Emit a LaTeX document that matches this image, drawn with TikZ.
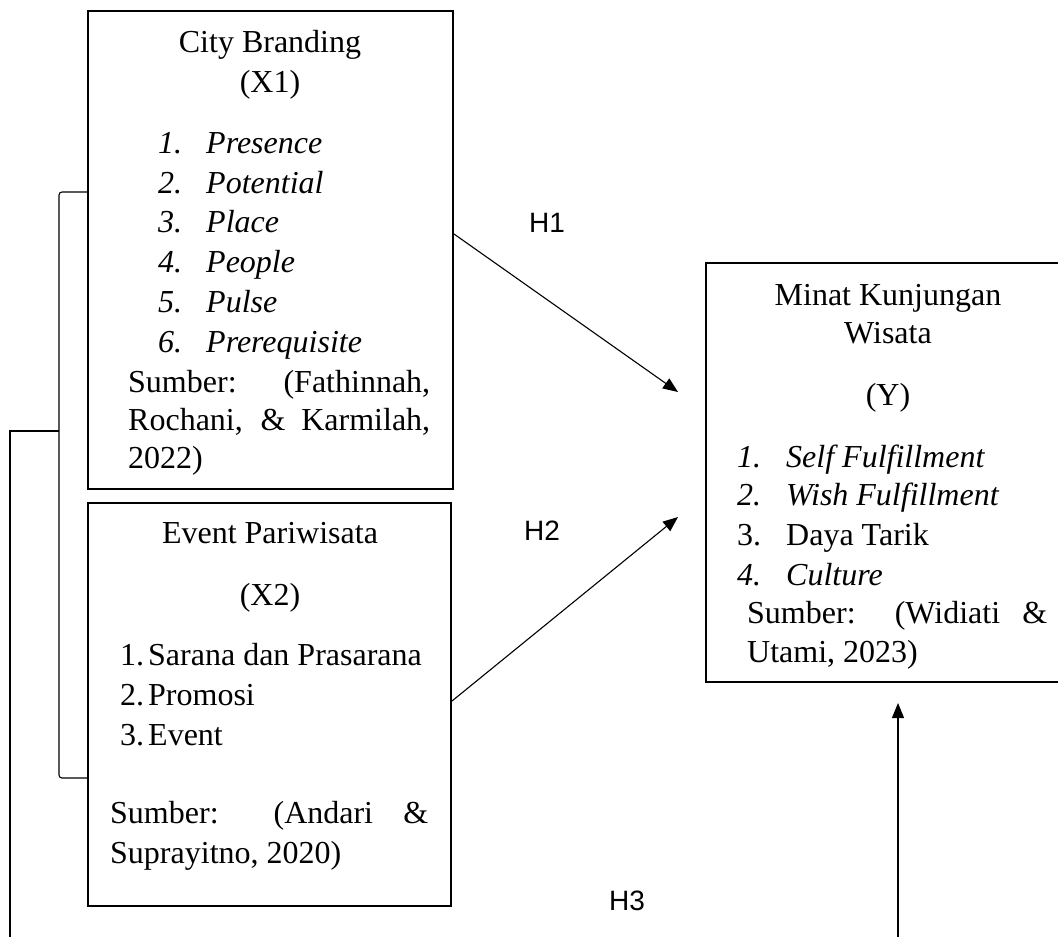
\documentclass[tikz,border=0pt]{standalone}
\usepackage{fontspec}
\setmainfont{Liberation Serif}
\newfontfamily\hsans{Liberation Sans}
\usetikzlibrary{arrows.meta}
\begin{document}
\begin{tikzpicture}[x=1pt,y=-1pt,
  box/.style={draw,line width=2pt,rectangle,inner sep=0pt},
  txt/.style={inner sep=0pt,font=\fontsize{32}{40}\selectfont},
  hlab/.style={inner sep=0pt,font=\hsans\fontsize{28}{32}\selectfont},
  conn/.style={line width=1.1pt},
  arr/.style={conn,-{Triangle[length=15pt,width=12pt]}}
]
\useasboundingbox (0,0) rectangle (1058,937);

% boxes
\node[box,minimum width=365pt,minimum height=478pt] (x1) at (270.5,250) {};
\node[box,minimum width=363pt,minimum height=403pt] (x2) at (269.5,704.5) {};
\node[box,minimum width=364pt,minimum height=419pt] (y) at (888,472.5) {};

% X1 text
\node[txt,anchor=base] (t1a) at (270,52) {City Branding};
\node[txt,anchor=base] (t1b) at (270,92) {(X1)};
\node[txt,anchor=base west] (i11) at (158,153) {\itshape\makebox[48pt][l]{1.}Presence};
\node[txt,anchor=base west] (i12) at (158,193) {\itshape\makebox[48pt][l]{2.}Potential};
\node[txt,anchor=base west] (i13) at (158,232) {\itshape\makebox[48pt][l]{3.}Place};
\node[txt,anchor=base west] (i14) at (158,272) {\itshape\makebox[48pt][l]{4.}People};
\node[txt,anchor=base west] (i15) at (158,312) {\itshape\makebox[48pt][l]{5.}Pulse};
\node[txt,anchor=base west] (i16) at (158,352) {\itshape\makebox[48pt][l]{6.}Prerequisite};
\node[txt,anchor=base west] (s1a) at (128,392) {\makebox[302pt][s]{Sumber: (Fathinnah,}};
\node[txt,anchor=base west] (s1b) at (128,430) {\makebox[302pt][s]{Rochani, \& Karmilah,}};
\node[txt,anchor=base west] (s1c) at (128,468) {2022)};

% X2 text
\node[txt,anchor=base] (t2a) at (270,543) {Event Pariwisata};
\node[txt,anchor=base] (t2b) at (270,605) {(X2)};
\node[txt,anchor=base west] (i21) at (120,665) {\makebox[28pt][l]{1.}Sarana dan Prasarana};
\node[txt,anchor=base west] (i22) at (120,705) {\makebox[28pt][l]{2.}Promosi};
\node[txt,anchor=base west] (i23) at (120,745) {\makebox[28pt][l]{3.}Event};
\node[txt,anchor=base west] (s2a) at (110,823) {\makebox[318pt][s]{Sumber: (Andari \&}};
\node[txt,anchor=base west] (s2b) at (110,863) {Suprayitno, 2020)};

% Y text
\node[txt,anchor=base] (tya) at (888,305) {Minat Kunjungan};
\node[txt,anchor=base] (tyb) at (888,343) {Wisata};
\node[txt,anchor=base] (tyc) at (888,405) {(Y)};
\node[txt,anchor=base west] (iy1) at (737,467) {\itshape\makebox[49pt][l]{1.}Self Fulfillment};
\node[txt,anchor=base west] (iy2) at (737,505) {\itshape\makebox[49pt][l]{2.}Wish Fulfillment};
\node[txt,anchor=base west] (iy3) at (737,545) {\makebox[49pt][l]{3.}Daya Tarik};
\node[txt,anchor=base west] (iy4) at (737,585) {\itshape\makebox[49pt][l]{4.}Culture};
\node[txt,anchor=base west] (sya) at (747,623) {\makebox[300pt][s]{Sumber: (Widiati \&}};
\node[txt,anchor=base west] (syb) at (747,662) {Utami, 2023)};

% hypothesis labels
\node[hlab,anchor=base west] (h1) at (529,232) {H1};
\node[hlab,anchor=base west] (h2) at (524,540) {H2};
\node[hlab,anchor=base west] (h3) at (609,910) {H3};

% connectors
\coordinate (h1s) at ([yshift=16pt]x1.east);
\coordinate (h1t) at (678,392);
\draw[arr] (h1s) -- (h1t);
\coordinate (h2s) at ([yshift=3.5pt]x2.east);
\coordinate (h2t) at (678,517);
\draw[arr] (h2s) -- (h2t);

% bracket joining X1 and X2
\coordinate (bt) at ([yshift=58pt]x1.west);
\coordinate (bb) at ([yshift=-73.5pt]x2.west);
\draw[conn,rounded corners=3pt] (bt) -- (59,192) -- (59,778) -- (bb);

% H3 path
\coordinate (oj) at (59,431);
\coordinate (oe) at (10,937);
\draw[conn] (oj) -- (10,431) -- (oe);
\coordinate (h3s) at (898,937);
\coordinate (h3t) at (898,703);
\draw[arr] (h3s) -- (h3t);
\end{tikzpicture}
\end{document}
